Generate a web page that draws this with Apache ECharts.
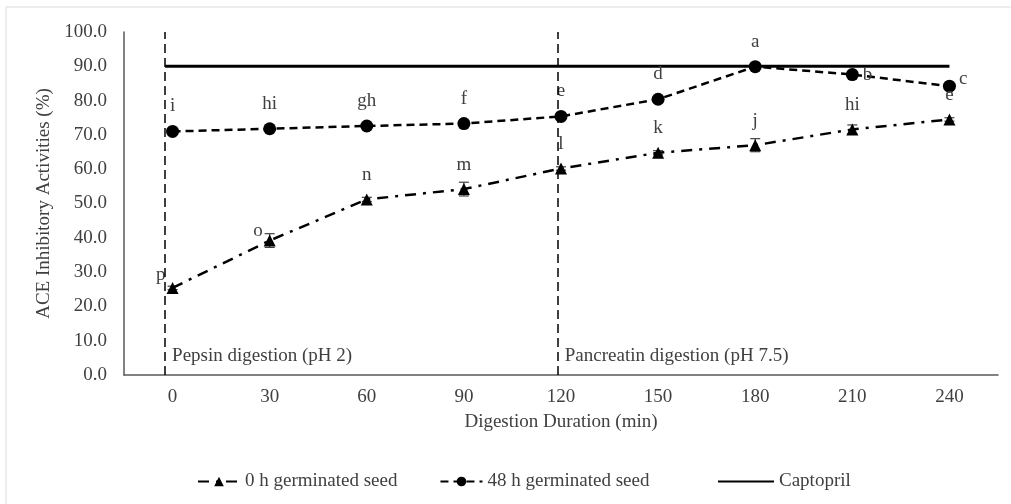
<!DOCTYPE html>
<html>
<head>
<meta charset="utf-8">
<script src="https://cdn.jsdelivr.net/npm/echarts@6/dist/echarts.min.js"></script>
<style>html,body{margin:0;padding:0;background:#fff}#chart{width:1011px;height:504px}</style>
</head>
<body>
<div id="chart"></div>
<script>
// digestion time points (min)
const minutes = ['0', '30', '60', '90', '120', '150', '180', '210', '240']
// ACE inhibitory activity (%)
const seed0h = [25.4, 39.2, 51.2, 54.2, 60.2, 64.8, 67.0, 71.6, 74.5]
const seed0hErr = [0.5, 2.0, 0.6, 2.0, 0.5, 0.6, 1.9, 1.3, 0.5]
const seed48h = [71.0, 71.8, 72.6, 73.3, 75.4, 80.4, 89.9, 87.6, 84.2]
const letters0h = ['p', 'o', 'n', 'm', 'l', 'k', 'j', 'hi', 'e']
const letters48h = ['i', 'hi', 'gh', 'f', 'e', 'd', 'a', 'b', 'c']
const captoprilX = [-2.3, 240]
const captoprilY = [90, 90]
const phaseStarts = [-2.3, 119]
const phaseNames = ['Pepsin digestion (pH 2)', 'Pancreatin digestion (pH 7.5)']

;(function () {
  const font = 'Liberation Serif', txt = '#404040', fs = 19
  const chart = echarts.init(document.getElementById('chart'), null, {renderer: 'canvas'})
  const letterLabel = {show: true, fontFamily: font, fontSize: fs, color: txt, distance: 9, formatter: p => p.data.letter}
  const legendText = {fontFamily: font, fontSize: fs, color: txt}

  const data48 = seed48h.map((v, i) => {
    const d = {value: v, letter: letters48h[i]}
    if (i === 7) d.label = {position: 'right', distance: 4, offset: [0, 0]}
    if (i === 8) d.label = {position: 'right', distance: 3, offset: [0, -7]}
    return d
  })
  const data0 = seed0h.map((v, i) => {
    const d = {value: v, letter: letters0h[i]}
    if (i === 0) d.label = {position: 'left', distance: 1, offset: [0, -13]}
    if (i === 1) d.label = {position: 'left', distance: 1, offset: [0, -10]}
    return d
  })

  const option = {
    backgroundColor: '#fff',
    animation: false,
    graphic: [{type: 'rect', shape: {x: 6, y: 7, width: 1010, height: 500}, style: {fill: 'none', stroke: '#dcdcdc', lineWidth: 1}, silent: true}],
    grid: {left: 124, right: 13, top: 32, bottom: 129},
    legend: [{
      left: 192, top: 467, itemWidth: 42, itemHeight: 12, itemGap: 42,
      textStyle: Object.assign({width: 160, overflow: 'none'}, legendText),
      data: ['0 h germinated seed', '48 h germinated seed'],
    }, {
      left: 712, top: 467, itemWidth: 56, itemHeight: 12,
      textStyle: legendText,
      data: [{name: 'Captopril', itemStyle: {opacity: 0}}],
    }],
    xAxis: [{
      type: 'category', data: minutes, boundaryGap: true,
      axisLine: {lineStyle: {color: '#595959', width: 1.5}}, axisTick: {show: false},
      axisLabel: {fontFamily: font, fontSize: fs, color: txt, margin: 13},
      name: 'Digestion Duration (min)', nameLocation: 'middle', nameGap: 38,
      nameTextStyle: {fontFamily: font, fontSize: fs, color: txt},
    }, {
      type: 'value', min: -15, max: 255, show: false,
    }],
    yAxis: {
      type: 'value', min: 0, max: 100, interval: 10,
      axisLine: {show: true, onZero: false, lineStyle: {color: '#595959', width: 1.5}}, axisTick: {show: false}, splitLine: {show: false},
      axisLabel: {fontFamily: font, fontSize: fs, color: txt, margin: 17, formatter: v => v.toFixed(1)},
      name: 'ACE Inhibitory Activities (%)', nameLocation: 'middle', nameGap: 67,
      nameTextStyle: {fontFamily: font, fontSize: fs, color: txt},
    },
    series: [{
      name: '0 h germinated seed', type: 'line', data: data0,
      symbol: 'triangle', symbolSize: 12,
      itemStyle: {color: '#000'}, lineStyle: {color: '#000', width: 2.5, type: [11, 7, 3, 7]},
      label: Object.assign({position: 'top'}, letterLabel), z: 3,
    }, {
      name: 'err0h', type: 'custom', z: 2, silent: true,
      data: seed0h.map((v, i) => [i, v, seed0hErr[i]]),
      renderItem(params, api) {
        const x = api.value(0), y = api.value(1), e = api.value(2)
        const hi = api.coord([x, y + e]), lo = api.coord([x, y - e]), w = 5
        const st = {stroke: '#404040', lineWidth: 1.2}
        return {type: 'group', children: [
          {type: 'line', shape: {x1: hi[0], y1: hi[1], x2: lo[0], y2: lo[1]}, style: st},
          {type: 'line', shape: {x1: hi[0] - w, y1: hi[1], x2: hi[0] + w, y2: hi[1]}, style: st},
          {type: 'line', shape: {x1: lo[0] - w, y1: lo[1], x2: lo[0] + w, y2: lo[1]}, style: st},
        ]}
      },
    }, {
      name: '48 h germinated seed', type: 'line', data: data48,
      symbol: 'circle', symbolSize: 13,
      itemStyle: {color: '#000'}, lineStyle: {color: '#000', width: 2.5, type: [8, 5]},
      label: Object.assign({position: 'top'}, letterLabel), z: 3,
    }, {
      name: 'Captopril', type: 'line', xAxisIndex: 1,
      data: captoprilX.map((x, i) => [x, captoprilY[i]]),
      symbol: 'none', lineStyle: {color: '#000', width: 3}, itemStyle: {color: '#000'}, z: 2,
      markLine: {
        silent: true, symbol: 'none', label: {show: false},
        lineStyle: {color: '#000', width: 1.5, type: [9, 5]},
        data: phaseStarts.map(x => ({xAxis: x})),
      },
      markPoint: {
        silent: true, symbol: 'circle', symbolSize: 0,
        label: {show: true, position: 'right', distance: 7, formatter: '{b}', fontFamily: font, fontSize: fs, color: txt},
        data: phaseStarts.map((x, i) => ({coord: [x, 5.5], name: phaseNames[i]})),
      },
    }],
  }
  chart.setOption(option)
})()
</script>
</body>
</html>
